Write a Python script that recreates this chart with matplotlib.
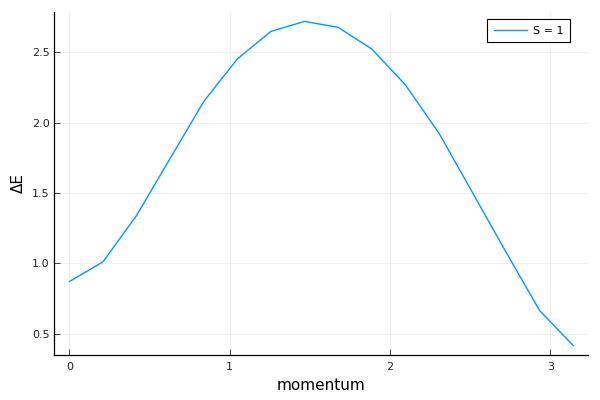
import numpy as np
import matplotlib
matplotlib.use("Agg")
import matplotlib.pyplot as plt

momentum = [0.0, 0.2094, 0.4189, 0.6283, 0.8378, 1.0472, 1.2566, 1.4661,
            1.6755, 1.8850, 2.0944, 2.3038, 2.5133, 2.7227, 2.9322, 3.1416]
delta_e = [0.871, 1.011, 1.341, 1.746, 2.151, 2.453, 2.649, 2.720,
           2.678, 2.524, 2.270, 1.927, 1.504, 1.080, 0.665, 0.416]
xticks = [0, 1, 2, 3]
yticks = [0.5, 1.0, 1.5, 2.0, 2.5]

fig = plt.figure(figsize=(6, 4), dpi=100)
ax = fig.add_axes([0.0905, 0.1118, 0.89, 0.859])
ax.plot(momentum, delta_e, color="#009AFA", lw=1.0, label="S = 1")

xr = max(momentum) - min(momentum)
yr = max(delta_e) - min(delta_e)
ax.set_xlim(min(momentum) - 0.03 * xr, max(momentum) + 0.03 * xr)
ax.set_ylim(min(delta_e) - 0.03 * yr, max(delta_e) + 0.03 * yr)
ax.set_xticks(xticks)
ax.set_xticklabels([str(t) for t in xticks])
ax.set_yticks(yticks)
ax.set_yticklabels([f"{t:.1f}" for t in yticks])

ax.grid(True, color="black", alpha=0.08, lw=0.5)
for s in ["top", "right"]:
    ax.spines[s].set_visible(False)
for s in ["left", "bottom"]:
    ax.spines[s].set_linewidth(0.9)
ax.tick_params(direction="in", length=4, width=0.6, labelsize=8, colors="#222222")
ax.tick_params(axis="x", pad=5)

ax.set_xlabel("momentum", fontsize=11)
ax.set_ylabel("ΔE", fontsize=11)

leg = ax.legend(loc="upper right", fontsize=8, frameon=True, fancybox=False,
                edgecolor="black", framealpha=1.0, handlelength=3.0,
                handletextpad=0.5, borderpad=0.6, borderaxespad=0.0,
                bbox_to_anchor=(0.9655, 0.9785))
leg.get_frame().set_linewidth(0.8)

fig.savefig("out.png", dpi=100)
